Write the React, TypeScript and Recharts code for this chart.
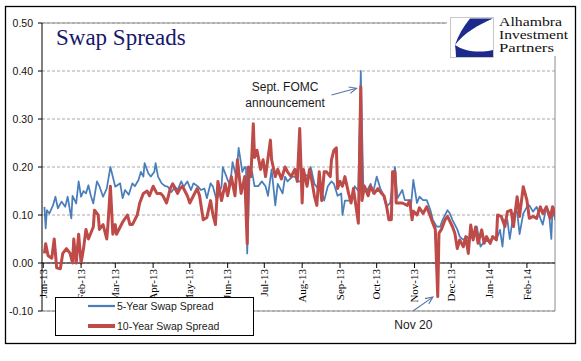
import React from 'react';
import { LineChart, Line, XAxis, YAxis, CartesianGrid, ReferenceLine, ReferenceDot, Legend } from 'recharts';

const W = 581;
const H = 361;
const MARGIN = { top: 23, right: 26, bottom: 20, left: 8 };
const Y_AXIS_W = 34;
const X_AXIS_H = 30;
const Y_MIN = -0.1;
const Y_MAX = 0.5;
const X_MIN = -1;
const X_MAX = 419;

const BLUE = '#4A7EBB';
const RED = '#BE4B48';
const ARROW = '#5676a6';
const SANS = "'Liberation Sans', Arial, sans-serif";
const SERIF = "'Liberation Serif', 'Times New Roman', serif";

// day offsets from 1 Jan 2013 of month ticks
const TICK_DAYS = [0, 31, 59, 90, 120, 151, 181, 212, 243, 273, 304, 334, 365, 396];
const TICK_LABELS = ['Jan-13', 'Feb-13', 'Mar-13', 'Apr-13', 'May-13', 'Jun-13', 'Jul-13', 'Aug-13', 'Sep-13', 'Oct-13', 'Nov-13', 'Dec-13', 'Jan-14', 'Feb-14'];
const Y_TICKS = [-0.1, 0, 0.1, 0.2, 0.3, 0.4, 0.5];

// [day offset from 1 Jan 2013, spread]
const FIVE_YEAR: [number, number][] = [
  [1, 0.117], [2, 0.072], [3, 0.11], [5, 0.103], [8, 0.12], [10, 0.138], [12, 0.114], [15, 0.128], [18, 0.117], [20, 0.138],
  [23, 0.093], [24, 0.14], [27, 0.124], [29, 0.17], [31, 0.138], [33, 0.15], [35, 0.145], [37, 0.162], [39, 0.14], [41, 0.124],
  [44, 0.17], [46, 0.16], [49, 0.138], [52, 0.155], [55, 0.2], [59, 0.159], [63, 0.166], [65, 0.135], [67, 0.152], [70, 0.142],
  [73, 0.166], [75, 0.16], [78, 0.173], [80, 0.19], [82, 0.18], [83, 0.208], [86, 0.187], [88, 0.18], [91, 0.19], [92, 0.208],
  [94, 0.18], [97, 0.166], [100, 0.16], [102, 0.159], [105, 0.148], [108, 0.159], [110, 0.152], [113, 0.17], [115, 0.159], [118, 0.17],
  [121, 0.152], [123, 0.166], [127, 0.159], [129, 0.152], [132, 0.155], [134, 0.135], [137, 0.166], [139, 0.159], [142, 0.13], [146, 0.16],
  [147, 0.2], [150, 0.18], [153, 0.16], [155, 0.21], [158, 0.18], [160, 0.24], [163, 0.19], [165, 0.2], [166, 0.2], [167, 0.02],
  [169, 0.19], [171, 0.19], [173, 0.16], [176, 0.16], [179, 0.17], [182, 0.16], [184, 0.14], [187, 0.195], [190, 0.12], [192, 0.165],
  [196, 0.145], [198, 0.18], [200, 0.17], [204, 0.18], [206, 0.18], [209, 0.17], [212, 0.17], [214, 0.185], [217, 0.18], [219, 0.2],
  [222, 0.165], [225, 0.155], [227, 0.16], [230, 0.13], [233, 0.16], [236, 0.17], [238, 0.165], [241, 0.14], [244, 0.145], [245, 0.1],
  [247, 0.13], [250, 0.13], [253, 0.13], [255, 0.16], [258, 0.15], [260, 0.4], [262, 0.165], [265, 0.15], [268, 0.165], [270, 0.145],
  [273, 0.18], [276, 0.155], [278, 0.145], [281, 0.117], [284, 0.125], [286, 0.165], [288, 0.2], [290, 0.135], [294, 0.152], [296, 0.131],
  [299, 0.131], [301, 0.117], [303, 0.173], [306, 0.125], [308, 0.138], [311, 0.131], [314, 0.131], [317, 0.11], [319, 0.09], [322, 0.076],
  [325, 0.076], [327, 0.09], [331, 0.11], [333, 0.103], [335, 0.09], [339, 0.07], [341, 0.055], [344, 0.048], [347, 0.055], [349, 0.048],
  [352, 0.06], [355, 0.076], [358, 0.034], [360, 0.041], [363, 0.048], [366, 0.041], [368, 0.055], [371, 0.048], [374, 0.069], [376, 0.034],
  [378, 0.09], [380, 0.09], [382, 0.05], [385, 0.103], [388, 0.107], [390, 0.06], [393, 0.103], [396, 0.117], [398, 0.12], [401, 0.107],
  [404, 0.117], [407, 0.093], [409, 0.08], [412, 0.117], [414, 0.107], [416, 0.05], [417, 0.117], [418, 0.115], [419, 0.09],
];

const TEN_YEAR: [number, number][] = [
  [1, 0.02], [2, 0.04], [4, 0.015], [7, 0.01], [9, 0.05], [11, -0.01], [14, -0.012], [16, 0.02], [19, 0.03], [22, 0.02],
  [24, 0.0], [25, 0.05], [27, 0.0], [29, 0.06], [31, 0.0], [33, 0.03], [35, 0.07], [37, 0.05], [41, 0.075], [42, 0.11],
  [45, 0.1], [46, 0.07], [49, 0.08], [52, 0.05], [53, 0.08], [55, 0.16], [57, 0.06], [59, 0.08], [60, 0.06], [63, 0.075],
  [65, 0.085], [69, 0.1], [71, 0.08], [73, 0.08], [77, 0.1], [79, 0.125], [82, 0.145], [85, 0.15], [87, 0.14], [90, 0.16],
  [93, 0.145], [96, 0.145], [98, 0.14], [101, 0.125], [104, 0.155], [106, 0.165], [110, 0.145], [112, 0.155], [114, 0.16], [118, 0.14],
  [120, 0.125], [123, 0.14], [126, 0.155], [128, 0.14], [131, 0.09], [134, 0.095], [137, 0.13], [139, 0.1], [141, 0.08], [143, 0.17],
  [146, 0.13], [149, 0.165], [151, 0.14], [154, 0.18], [157, 0.14], [159, 0.215], [162, 0.145], [165, 0.18], [167, 0.04], [168, 0.2],
  [170, 0.18], [172, 0.29], [173, 0.22], [175, 0.235], [178, 0.195], [180, 0.215], [182, 0.18], [186, 0.256], [187, 0.215], [190, 0.18],
  [192, 0.195], [195, 0.175], [198, 0.2], [200, 0.19], [203, 0.18], [206, 0.195], [208, 0.17], [210, 0.28], [212, 0.125], [213, 0.195],
  [216, 0.16], [218, 0.195], [220, 0.17], [222, 0.14], [224, 0.12], [226, 0.19], [228, 0.13], [230, 0.19], [232, 0.19], [235, 0.18],
  [236, 0.215], [238, 0.235], [240, 0.24], [241, 0.155], [243, 0.17], [245, 0.16], [247, 0.18], [250, 0.145], [252, 0.125], [254, 0.155],
  [258, 0.083], [260, 0.367], [261, 0.13], [263, 0.16], [266, 0.14], [268, 0.16], [271, 0.145], [274, 0.155], [277, 0.145], [279, 0.14],
  [281, 0.12], [283, 0.09], [285, 0.09], [286, 0.19], [288, 0.19], [289, 0.125], [292, 0.125], [294, 0.125], [298, 0.12], [300, 0.13],
  [302, 0.09], [303, 0.108], [306, 0.1], [308, 0.115], [311, 0.103], [314, 0.117], [317, 0.097], [319, 0.083], [321, 0.07], [323, -0.07],
  [324, 0.062], [326, 0.07], [329, 0.09], [331, 0.097], [335, 0.076], [337, 0.062], [339, 0.03], [341, 0.048], [344, 0.034], [346, 0.055],
  [348, 0.02], [350, 0.079], [352, 0.048], [354, 0.075], [356, 0.041], [359, 0.069], [361, 0.041], [363, 0.055], [366, 0.041], [368, 0.055],
  [371, 0.048], [372, 0.1], [375, 0.097], [378, 0.076], [380, 0.107], [383, 0.11], [385, 0.076], [388, 0.138], [390, 0.097], [393, 0.159],
  [396, 0.131], [398, 0.093], [401, 0.097], [404, 0.093], [407, 0.117], [409, 0.103], [412, 0.117], [415, 0.093], [417, 0.117], [419, 0.097],
];

const SERIES = [
  { key: 'five', name: '5-Year Swap Spread', color: BLUE, width: 1.75, legendWidth: 2.2, points: FIVE_YEAR },
  { key: 'ten', name: '10-Year Swap Spread', color: RED, width: 3, legendWidth: 4, points: TEN_YEAR },
];

const LOGO_LINES = [
  { text: 'Alhambra', len: 63 },
  { text: 'Investment', len: 69 },
  { text: 'Partners', len: 55 },
];

// annotations in data coordinates
const FOMC_ARROW = [{ x: 236, y: 0.35 }, { x: 256.5, y: 0.364 }];
const FOMC_TEXT = { x: 198, y: 0.358, lines: ['Sept. FOMC', 'announcement'] };
const NOV_ARROW = [{ x: 303, y: -0.0995 }, { x: 319, y: -0.071 }];
const NOV_TEXT = { x: 303, y: -0.1, lines: ['Nov 20'] };

const PLOT_TOP = MARGIN.top;
const PLOT_H = H - MARGIN.top - MARGIN.bottom - X_AXIS_H;
const ZERO_Y = PLOT_TOP + (PLOT_H * (Y_MAX - 0)) / (Y_MAX - Y_MIN);

const XTick = (props: any) => {
  const { x, payload } = props;
  const i = TICK_DAYS.indexOf(payload.value);
  const ty = ZERO_Y + 6;
  return (
    <g>
      <line x1={x} y1={ZERO_Y} x2={x} y2={ZERO_Y + 5} stroke="#000" strokeWidth={1} />
      <text x={x} y={ty} transform={`rotate(-90 ${x} ${ty})`} textAnchor="end" dy="0.33em" fontFamily={SERIF} fontSize={11} fill="#000">
        {TICK_LABELS[i]}
      </text>
    </g>
  );
};

const ArrowShape = (props: any) => {
  const { x1, y1, x2, y2 } = props;
  const a = Math.atan2(y2 - y1, x2 - x1);
  const L = 8;
  const s = 0.42;
  const p1 = `${x2 - L * Math.cos(a - s)},${y2 - L * Math.sin(a - s)}`;
  const p2 = `${x2 - L * Math.cos(a + s)},${y2 - L * Math.sin(a + s)}`;
  return (
    <g>
      <line x1={x1} y1={y1} x2={x2} y2={y2} stroke={ARROW} strokeWidth={1.1} />
      <polyline points={`${p1} ${x2},${y2} ${p2}`} fill="none" stroke={ARROW} strokeWidth={1.1} />
    </g>
  );
};

const makeTextLabel = (lines: string[], dy0: number) => (p: any) => {
  const vb = p.viewBox || {};
  const cx = (vb.x || 0) + (vb.width || 0) / 2;
  const cy = (vb.y || 0) + (vb.height || 0) / 2;
  return (
    <text textAnchor="middle" fontFamily={SANS} fontSize={12} fill="#1a1a1a">
      {lines.map((l, i) => (
        <tspan key={i} x={cx} y={cy + dy0 + i * 16}>{l}</tspan>
      ))}
    </text>
  );
};

const LegendBox = () => (
  <div style={{ width: 199, height: 39, boxSizing: 'border-box', border: '1px solid #000', background: '#fff' }}>
    <svg width={197} height={37} style={{ display: 'block' }}>
      {SERIES.map((s, i) => (
        <g key={s.key}>
          <line x1={32} x2={59} y1={8 + i * 20} y2={8 + i * 20} stroke={s.color} strokeWidth={s.legendWidth} />
          <text x={61} y={12 + i * 20} fontFamily={SANS} fontSize={10.5} fill="#222">{s.name}</text>
        </g>
      ))}
    </svg>
  </div>
);

export default function App() {
  return (
    <div style={{ position: 'absolute', left: 0, top: 0, width: W, height: H, background: '#fff' }}>
      <LineChart width={W} height={H} margin={MARGIN}>
        <CartesianGrid horizontal vertical={false} stroke="#a9a9a9" strokeDasharray="3 2" />
        <XAxis
          type="number"
          dataKey="d"
          domain={[X_MIN, X_MAX]}
          allowDataOverflow
          ticks={TICK_DAYS}
          interval={0}
          height={X_AXIS_H}
          axisLine={false}
          tickLine={false}
          tick={<XTick />}
        />
        <YAxis
          type="number"
          domain={[Y_MIN, Y_MAX]}
          ticks={Y_TICKS}
          interval={0}
          width={Y_AXIS_W}
          axisLine={{ stroke: '#000' }}
          tickLine={{ stroke: '#000' }}
          tickSize={4}
          tickMargin={5}
          tick={{ fontFamily: SANS, fontSize: 10.5, fill: '#111' }}
          tickFormatter={(v: number) => v.toFixed(2)}
        />
        <ReferenceLine y={Y_MAX} stroke="#8c8c8c" />
        <ReferenceLine y={Y_MIN} stroke="#8c8c8c" />
        <ReferenceLine x={X_MAX} stroke="#8c8c8c" />
        <ReferenceLine y={0} stroke="#000" />
        {SERIES.map((s) => (
          <Line
            key={s.key}
            name={s.name}
            data={s.points.map(([d, v]) => ({ d, v }))}
            dataKey="v"
            type="linear"
            stroke={s.color}
            strokeWidth={s.width}
            strokeLinejoin="round"
            dot={false}
            activeDot={false}
            isAnimationActive={false}
          />
        ))}
        <ReferenceLine segment={FOMC_ARROW} shape={ArrowShape} />
        <ReferenceLine segment={NOV_ARROW} shape={ArrowShape} />
        <ReferenceDot x={FOMC_TEXT.x} y={FOMC_TEXT.y} r={1} fill="none" stroke="none" label={makeTextLabel(FOMC_TEXT.lines, 0)} />
        <ReferenceDot x={NOV_TEXT.x} y={NOV_TEXT.y} r={1} fill="none" stroke="none" label={makeTextLabel(NOV_TEXT.lines, 18)} />
        <Legend
          layout="vertical"
          align="center"
          verticalAlign="middle"
          content={() => <LegendBox />}
          wrapperStyle={{ left: 55, top: 297, width: 199, height: 39, bottom: 'auto', right: 'auto' }}
        />
      </LineChart>
      <svg width={W} height={H} style={{ position: 'absolute', left: 0, top: 0, pointerEvents: 'none' }}>
        <rect x={5.5} y={6.5} width={570} height={337} fill="none" stroke="#000" strokeWidth={1.3} />
        <text x={56} y={45} fontFamily={SERIF} fontSize={23} fill="#17176b">Swap Spreads</text>
        <rect x={447} y={9} width={127} height={47} fill="#fff" />
        <rect x={450.5} y={17.5} width={43} height={40} fill="#fff" stroke="#c9c9c9" />
        <path d="M470 18.5 L493 18.5 C478 25, 464 33, 455 45 C458 36, 463 27, 470 18.5 Z" fill="#1c2a8c" />
        <path d="M455 45 C465 52, 480 53, 493 50 L493 57 L456 57 C456 53, 455.5 49, 455 45 Z" fill="#1c2a8c" />
        {LOGO_LINES.map((l, i) => (
          <text key={l.text} x={499} y={26 + i * 13} fontFamily={SERIF} fontSize={11.5} fill="#111" textLength={l.len} lengthAdjust="spacingAndGlyphs">
            {l.text}
          </text>
        ))}
      </svg>
    </div>
  );
}
